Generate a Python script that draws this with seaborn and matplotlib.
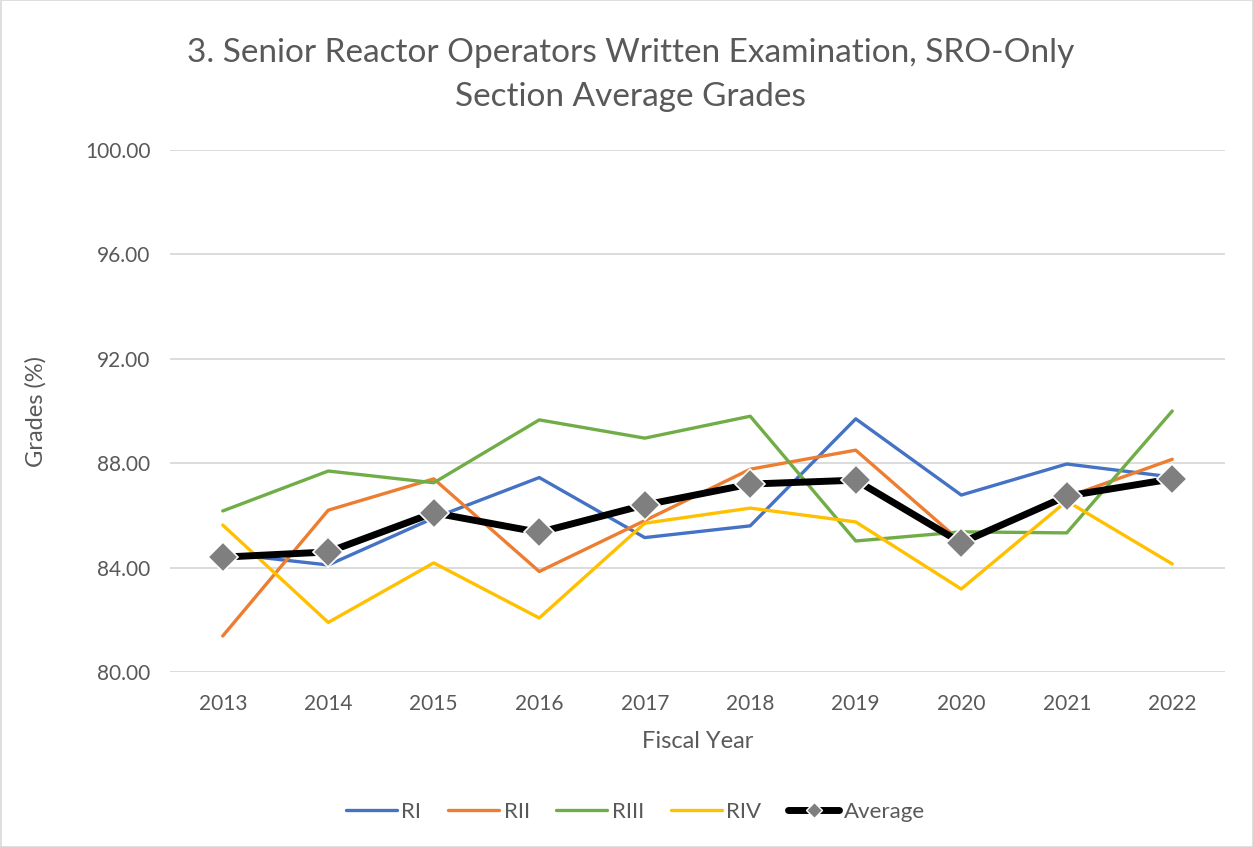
import numpy as np
import pandas as pd
import matplotlib.pyplot as plt
import seaborn as sns
from matplotlib.patches import Rectangle

years = ['2013', '2014', '2015', '2016', '2017', '2018', '2019', '2020', '2021', '2022']
ri = [84.55, 84.10, 85.90, 87.45, 85.15, 85.60, 89.70, 86.78, 87.97, 87.47]
rii = [81.38, 86.20, 87.40, 83.85, 85.80, 87.77, 88.50, 84.98, 86.70, 88.15]
riii = [86.17, 87.70, 87.25, 89.66, 88.96, 89.80, 85.02, 85.37, 85.33, 90.00]
riv = [85.63, 81.90, 84.18, 82.07, 85.70, 86.28, 85.75, 83.18, 86.55, 84.14]
average = [84.40, 84.60, 86.10, 85.35, 86.40, 87.20, 87.35, 84.95, 86.74, 87.40]

regions = ['RI', 'RII', 'RIII', 'RIV']
colors = ['#4472C4', '#ED7D31', '#70AD47', '#FFC000']

df = pd.DataFrame({'year': years * 4,
                   'grade': ri + rii + riii + riv,
                   'region': [r for r in regions for _ in years]})
avg_df = pd.DataFrame({'year': years, 'grade': average})

sns.set_style('white')
plt.rcParams['font.family'] = ['Lato', 'DejaVu Sans']
txt = '#595959'

fig = plt.figure(figsize=(12.53, 8.47), dpi=100)
ax = fig.add_axes([170/1253, 1-672/847, 1055/1253, 522/847])

sns.lineplot(data=df, x='year', y='grade', hue='region', palette=colors,
             linewidth=2.4, ax=ax, legend=False, sort=False)
sns.lineplot(data=avg_df, x='year', y='grade', color='black', linewidth=5,
             marker='D', markersize=15, markerfacecolor='#7F7F7F',
             markeredgecolor='white', markeredgewidth=1.2, ax=ax, legend=False)

ax.set_xlim(-0.5, 9.5)
ax.set_ylim(80, 100)
ax.set_yticks([80, 84, 88, 92, 96, 100])
ax.set_yticklabels([f'{v:.2f}' for v in [80, 84, 88, 92, 96, 100]])
ax.grid(axis='y', color='#D9D9D9', linewidth=1.3)
ax.set_axisbelow(True)
for s in ax.spines.values():
    s.set_visible(False)
ax.tick_params(axis='both', length=0, labelsize=15, labelcolor=txt)
ax.tick_params(axis='x', pad=16)
ax.tick_params(axis='y', pad=14)
ax.set_xlabel('Fiscal Year', fontsize=17, color=txt, labelpad=12)
ax.set_ylabel('Grades (%)', fontsize=17, color=txt, labelpad=28)

fig.text(0.503, 1-75/847, '3. Senior Reactor Operators Written Examination, SRO-Only\nSection Average Grades',
         ha='center', va='center', fontsize=24, color=txt, linespacing=1.55)

handles = [plt.Line2D([], [], color=c, linewidth=2.4) for c in colors]
handles.append(plt.Line2D([], [], color='black', linewidth=5, marker='D', markersize=8,
                          markerfacecolor='#7F7F7F', markeredgecolor='white'))
fig.legend(handles, regions + ['Average'], loc='center', bbox_to_anchor=(0.507, 1-812/847),
           ncol=5, frameon=False, fontsize=16, labelcolor=txt, handlelength=2.3,
           columnspacing=1.2, handletextpad=0.2)

fig.patches.append(Rectangle((0.5/1253, 0.5/847), 1-1/1253, 1-1/847, transform=fig.transFigure,
                             fill=False, edgecolor='#D9D9D9', linewidth=1.2))

fig.savefig('out.png', dpi=100)
